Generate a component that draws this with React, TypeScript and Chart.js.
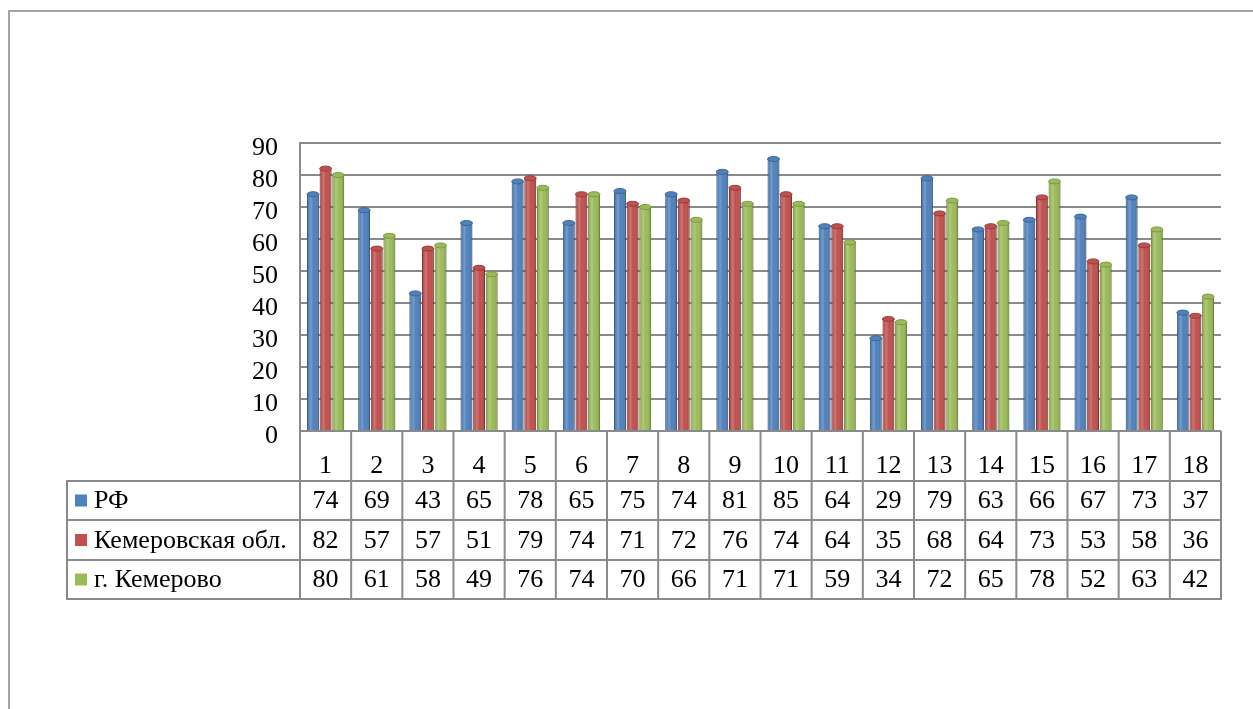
import React, { useEffect, useRef } from "react";
import { Chart, registerables } from "chart.js";

Chart.register(...registerables);

const categories = ["1", "2", "3", "4", "5", "6", "7", "8", "9", "10", "11", "12", "13", "14", "15", "16", "17", "18"];
const seriesNames = ["РФ", "Кемеровская обл.", "г. Кемерово"];
const rfValues = [74, 69, 43, 65, 78, 65, 75, 74, 81, 85, 64, 29, 79, 63, 66, 67, 73, 37];
const oblValues = [82, 57, 57, 51, 79, 74, 71, 72, 76, 74, 64, 35, 68, 64, 73, 53, 58, 36];
const cityValues = [80, 61, 58, 49, 76, 74, 70, 66, 71, 71, 59, 34, 72, 65, 78, 52, 63, 42];
const seriesColors = ["#4F81BD", "#C0504D", "#9BBB59"];
const seriesBorders = ["#3A6597", "#963B39", "#789A40"];

const FONT = "'Liberation Serif', 'Times New Roman', serif";
const GRID = "#8a8a8a";

const barShadePlugin = {
  id: "barShade",
  afterDatasetsDraw(chart: any) {
    const ctx = chart.ctx;
    chart.data.datasets.forEach((ds: any, di: number) => {
      const meta = chart.getDatasetMeta(di);
      meta.data.forEach((el: any) => {
        const w = el.width;
        const left = el.x - w / 2;
        const top = el.y;
        const bottom = el.base;
        const g = ctx.createLinearGradient(left, 0, left + w, 0);
        g.addColorStop(0, "rgba(0,0,0,0.10)");
        g.addColorStop(0.3, "rgba(255,255,255,0.22)");
        g.addColorStop(0.55, "rgba(255,255,255,0.0)");
        g.addColorStop(1, "rgba(0,0,0,0.22)");
        ctx.save();
        ctx.fillStyle = g;
        ctx.fillRect(left, top, w, bottom - top);
        ctx.beginPath();
        ctx.ellipse(el.x, top, w / 2, 2.5, 0, 0, Math.PI * 2);
        ctx.fillStyle = seriesColors[di];
        ctx.fill();
        ctx.strokeStyle = seriesBorders[di];
        ctx.lineWidth = 1;
        ctx.stroke();
        ctx.restore();
      });
    });
  },
};

const tablePlugin = {
  id: "dataTable",
  afterDraw(chart: any, _args: any, opts: any) {
    const ctx = chart.ctx;
    const xs = chart.scales.x;
    const area = chart.chartArea;
    const n = chart.data.labels.length;
    const bounds: number[] = [];
    for (let i = 0; i <= n; i++) {
      if (i === 0) bounds.push(xs.left);
      else if (i === n) bounds.push(xs.right);
      else bounds.push((xs.getPixelForValue(i - 1) + xs.getPixelForValue(i)) / 2);
    }
    const rowTops: number[] = opts.rowTops;
    const tableLeft: number = opts.tableLeft;
    ctx.save();
    ctx.strokeStyle = GRID;
    ctx.lineWidth = 2;
    ctx.beginPath();
    bounds.forEach((b) => {
      ctx.moveTo(b, area.bottom);
      ctx.lineTo(b, rowTops[rowTops.length - 1]);
    });
    ctx.moveTo(tableLeft, rowTops[0]);
    ctx.lineTo(tableLeft, rowTops[rowTops.length - 1]);
    rowTops.forEach((y) => {
      ctx.moveTo(tableLeft - 1, y);
      ctx.lineTo(bounds[n] + 1, y);
    });
    ctx.stroke();

    ctx.fillStyle = "#000";
    ctx.font = `26px ${FONT}`;
    ctx.textAlign = "center";
    ctx.textBaseline = "middle";
    chart.data.labels.forEach((lab: string, i: number) => {
      ctx.fillText(lab, (bounds[i] + bounds[i + 1]) / 2, opts.headerY);
    });
    chart.data.datasets.forEach((ds: any, di: number) => {
      const cy = (rowTops[di] + rowTops[di + 1]) / 2 + 1;
      ds.data.forEach((v: number, i: number) => {
        ctx.textAlign = "center";
        ctx.fillText(String(v), (bounds[i] + bounds[i + 1]) / 2, cy);
      });
      ctx.fillStyle = seriesColors[di];
      ctx.fillRect(tableLeft + 8, cy - 7, 12, 12);
      ctx.fillStyle = "#000";
      ctx.textAlign = "left";
      ctx.fillText(ds.label, tableLeft + 27, cy);
    });
    ctx.restore();
  },
};

export default function App() {
  const ref = useRef<HTMLCanvasElement | null>(null);
  useEffect(() => {
    if (!ref.current) return;
    const chart = new Chart(ref.current, {
      type: "bar",
      data: {
        labels: categories,
        datasets: [
          { label: seriesNames[0], data: rfValues, backgroundColor: seriesColors[0], borderColor: seriesBorders[0], borderWidth: 1 },
          { label: seriesNames[1], data: oblValues, backgroundColor: seriesColors[1], borderColor: seriesBorders[1], borderWidth: 1 },
          { label: seriesNames[2], data: cityValues, backgroundColor: seriesColors[2], borderColor: seriesBorders[2], borderWidth: 1 },
        ],
      },
      options: {
        responsive: false,
        animation: false,
        layout: { padding: { left: 0, right: 32, top: 143, bottom: 278 } },
        datasets: { bar: { categoryPercentage: 0.74, barPercentage: 0.94 } },
        plugins: {
          legend: { display: false },
          tooltip: { enabled: false },
          dataTable: { rowTops: [481, 520, 560, 599], tableLeft: 67, headerY: 466 },
        } as any,
        scales: {
          x: { display: false },
          y: {
            min: 0,
            max: 90,
            ticks: {
              stepSize: 10,
              autoSkip: false,
              padding: 22,
              labelOffset: 5,
              color: "#000",
              font: { family: FONT, size: 26 },
            },
            grid: { color: GRID, lineWidth: 2, drawTicks: false },
            border: { display: true, color: GRID, width: 2 },
            afterFit: (s: any) => {
              s.width = 300;
            },
          },
        },
      },
      plugins: [barShadePlugin, tablePlugin],
    });
    return () => chart.destroy();
  }, []);
  return (
    <div style={{ position: "fixed", left: 0, top: 0, width: 1253, height: 709, overflow: "hidden", background: "#fff" }}>
      <div style={{ position: "absolute", left: 8, top: 10, width: 1400, height: 900, border: "2px solid #a3a3a3" }} />
      <canvas ref={ref} width={1253} height={709} style={{ position: "absolute", left: 0, top: 0 }} />
    </div>
  );
}
